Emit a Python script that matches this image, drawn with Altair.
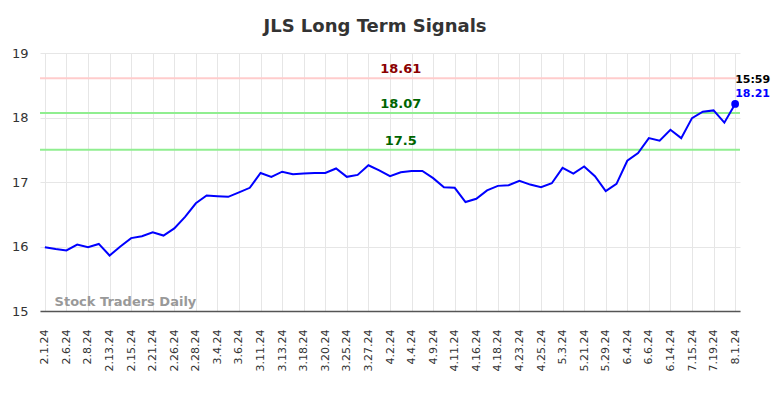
import altair as alt
import pandas as pd

tick_labels = ["2.1.24", "2.6.24", "2.8.24", "2.13.24", "2.15.24", "2.21.24", "2.26.24",
               "2.28.24", "3.4.24", "3.6.24", "3.11.24", "3.13.24", "3.18.24", "3.20.24",
               "3.25.24", "3.27.24", "4.2.24", "4.4.24", "4.9.24", "4.11.24", "4.16.24",
               "4.18.24", "4.23.24", "4.25.24", "5.3.24", "5.21.24", "5.29.24", "6.4.24",
               "6.6.24", "6.14.24", "7.15.24", "7.19.24", "8.1.24"]

prices = [15.99, 15.96, 15.94, 16.03, 15.99, 16.04, 15.86, 16.00, 16.13, 16.16,
          16.22, 16.17, 16.28, 16.46, 16.67, 16.79, 16.78, 16.77, 16.84, 16.91,
          17.14, 17.08, 17.16, 17.12, 17.13, 17.14, 17.14, 17.21, 17.08, 17.11,
          17.26, 17.18, 17.09, 17.15, 17.17, 17.17, 17.06, 16.92, 16.91, 16.69,
          16.74, 16.87, 16.94, 16.95, 17.02, 16.96, 16.92, 16.98, 17.22, 17.13,
          17.24, 17.09, 16.86, 16.97, 17.33, 17.45, 17.68, 17.64, 17.81, 17.68,
          17.99, 18.09, 18.11, 17.92, 18.21]

signal_values = [18.61, 18.07, 17.5]
signal_labels = ["18.61", "18.07", "17.5"]
signal_line_colors = ["#ffcccc", "#90ee90", "#90ee90"]
signal_text_colors = ["#8b0000", "#006400", "#006400"]

last_time = "15:59"

FONT = "DejaVu Sans"

df = pd.DataFrame({"i": list(range(len(prices))), "price": prices})
sig = pd.DataFrame({"price": signal_values, "label": signal_labels,
                    "lc": signal_line_colors, "tc": signal_text_colors,
                    "i": [33] * len(signal_values)})
last = df.tail(1).copy()
last["label"] = f"{prices[-1]:.2f}"
last["time"] = last_time
wm = pd.DataFrame({"i": [0.9], "price": [15.14], "t": ["Stock Traders Daily"]})

label_js = "[" + ",".join(f"'{l}'" for l in tick_labels) + "]"

x_scale = alt.Scale(domain=[-0.45, len(prices) - 1 + 0.45], nice=False, zero=False)
y_scale = alt.Scale(domain=[15, 19], nice=False, zero=False)

x_axis = alt.Axis(
    values=list(range(0, len(prices), 2)),
    labelExpr=f"{label_js}[round(datum.value/2)]",
    labelAngle=-90, labelFontSize=11, labelColor="#333", labelFont=FONT,
    ticks=False, labelPadding=18, domainColor="#555", domainWidth=1.5,
    grid=True, gridColor="#e6e6e6", title=None, labelOverlap=False)
y_axis = alt.Axis(
    values=[15, 16, 17, 18, 19], format="d", labelFontSize=13, labelColor="#333",
    labelFont=FONT, ticks=False, domain=False, grid=True, gridColor="#e6e6e6",
    title=None, labelPadding=12)

xs = alt.X("i:Q", scale=x_scale, axis=x_axis)
ys = alt.Y("price:Q", scale=y_scale, axis=y_axis)

rules = alt.Chart(sig).mark_rule(strokeWidth=2).encode(
    y=ys, color=alt.Color("lc:N", scale=None))

sig_text = alt.Chart(sig).mark_text(fontWeight="bold", fontSize=13, font=FONT,
                                     baseline="bottom", dy=-2).encode(
    x=xs, y=ys, text="label:N", color=alt.Color("tc:N", scale=None))

line = alt.Chart(df).mark_line(color="#0000ff", strokeWidth=2).encode(x=xs, y=ys)

dot = alt.Chart(last).mark_point(filled=True, size=60, color="#0000ff", opacity=1).encode(
    x=xs, y=ys)

val_text = alt.Chart(last).mark_text(fontWeight="bold", fontSize=11, font=FONT,
                                      align="left", baseline="middle", dy=-10,
                                      color="#0000ff").encode(x=xs, y=ys, text="label:N")

time_text = alt.Chart(last).mark_text(fontWeight="bold", fontSize=11, font=FONT,
                                       align="left", baseline="middle", dy=-24,
                                       color="#000000").encode(x=xs, y=ys, text="time:N")

wm_text = alt.Chart(wm).mark_text(fontWeight="bold", fontSize=13, font=FONT,
                                  align="left", baseline="middle", color="#999999").encode(
    x=xs, y=ys, text="t:N")

chart = alt.layer(rules, sig_text, wm_text, line, dot, val_text, time_text).properties(
    width=700, height=258,
    title=alt.TitleParams("JLS Long Term Signals", fontSize=18, font=FONT,
                          fontWeight="bold", color="#333", anchor="middle", dx=-15, offset=11),
    autosize=alt.AutoSizeParams(type="none"),
    padding={"left": 32, "top": 45, "right": 36, "bottom": 70},
).configure_view(stroke=None)

chart.save("out.html", embed_options={"renderer": "svg", "actions": False})
